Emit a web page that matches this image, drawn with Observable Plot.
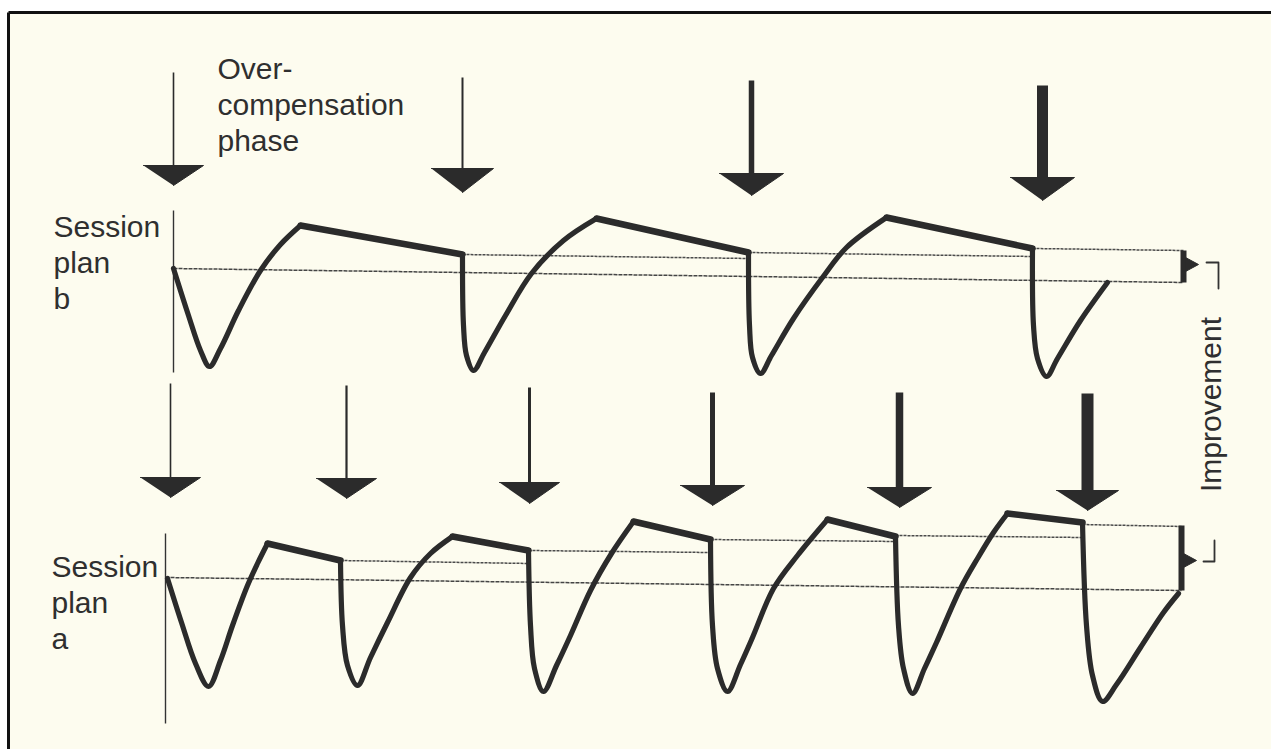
<!DOCTYPE html>
<html><head><meta charset="utf-8">
<script src="https://cdn.jsdelivr.net/npm/d3@7"></script>
<script src="https://cdn.jsdelivr.net/npm/@observablehq/plot@0.6"></script>
<style>html,body{margin:0;padding:0;background:#fff;overflow:hidden} #chart svg{display:block}</style>
</head><body><div id="chart"></div>
<script>
// ---- Session plan b (upper diagram) ----
const bAxis = [[173, 210], [173, 372]];
const bBaseline = [[173, 268], [1183, 282]];
const bTroughs = [
  [[173,268],[188,315],[200,350],[209,366],[220,348],[238,310],[260,270],[280,244],[300,225]],
  [[462,254],[463,325],[466,355],[473,370],[484,352],[505,315],[531,273],[563,240],[596,218]],
  [[748,252],[749,325],[752,357],[760,373],[771,355],[793,318],[822,277],[846,247],[886,217]],
  [[1032,248],[1033,325],[1037,358],[1046,376],[1057,358],[1080,320],[1107,282]]
];
const bPlateaus = [[[300,225],[462,254]], [[596,218],[748,252]], [[886,217],[1032,248]]];
const bLevels = [[[462,254],[748,258]], [[748,252],[1032,256]], [[1032,248],[1183,250]]];
const bArrowX = [173, 462, 751, 1042];
const bArrowTop = [72, 77, 80, 85];
const bArrowHeadTop = [165, 168, 173, 177];
const bArrowTip = [185, 192, 195, 200];
const bArrowShaft = [1.6, 2, 5.5, 11];
const bArrowHalf = [30, 31, 32, 32];
const bBracket = {x: 1183, top: 250, bottom: 282, point: 264};

// ---- Session plan a (lower diagram) ----
const aAxis = [[165, 533], [165, 723]];
const aBaseline = [[165, 577], [1181, 590]];
const aTroughs = [
  [[167,578],[181,622],[195,663],[208,686],[220,660],[232,625],[247,585],[257,563],[267,543]],
  [[340,560],[342,625],[347,665],[357,685],[370,657],[387,622],[410,577],[430,553],[452,536]],
  [[528,550],[530,625],[534,668],[543,691],[556,665],[570,635],[590,590],[611,553],[633,521]],
  [[710,539],[712,625],[717,668],[727,691],[740,664],[752,637],[773,588],[797,555],[827,519]],
  [[895,536],[898,625],[903,668],[912,693],[924,668],[936,642],[960,588],[977,558],[993,532],[1007,513]],
  [[1082,522],[1086,625],[1092,675],[1102,701],[1116,684],[1140,647],[1163,612],[1178,593]]
];
const aPlateaus = [[[267,543],[340,560]], [[452,536],[528,550]], [[633,521],[710,539]], [[827,519],[895,536]], [[1007,513],[1082,522]]];
const aLevels = [[[340,560],[528,563]], [[528,550],[710,552]], [[710,539],[895,541]], [[895,535],[1082,537]], [[1082,524],[1181,526]]];
const aArrowX = [170, 346, 529, 712, 899, 1087];
const aArrowTop = [383, 385, 387, 392, 392, 393];
const aArrowHeadTop = [477, 478, 482, 485, 487, 490];
const aArrowTip = [497, 498, 503, 505, 507, 510];
const aArrowShaft = [1.6, 2.2, 3, 5, 7.5, 12];
const aArrowHalf = [30, 30, 30, 32, 32, 31];
const aBracket = {x: 1181, top: 525, bottom: 590, point: 560};

// ---- labels ----
const labels = [
  {text: "Over-\ncompensation\nphase", x: 217, y: 150},
  {text: "Session\nplan\nb", x: 53, y: 308},
  {text: "Session\nplan\na", x: 51, y: 648}
];
const improvementLabel = {text: "Improvement", x: 1211, y: 404};
const improvementTicks = [
  [[1206,262],[1218,262],[1218,288]],
  [[1214,540],[1214,561],[1203,561]]
];

// ---- page frame (scan border: top and left edges only) ----
const frameEdges = [[[8,12],[1271,12]], [[8,12],[8,749]]];
const paper = [{x1: 8, y1: 12, x2: 1271, y2: 749}];

// ---- build tables ----
const ink = "#2b2b2b";
const toLinks = (pairs) => pairs.map(([[x1,y1],[x2,y2]]) => ({x1, y1, x2, y2}));
const toRows = (paths, prefix) => paths.flatMap((p, i) => p.map(([x, y]) => ({id: prefix + i, x, y})));
const arrows = (X, T, H, P, S, W, prefix) => X.map((x, i) => ({id: prefix + i, x, top: T[i], headTop: H[i], tip: P[i], shaft: S[i], half: W[i]}));
const arrowList = [...arrows(bArrowX, bArrowTop, bArrowHeadTop, bArrowTip, bArrowShaft, bArrowHalf, "b"),
                   ...arrows(aArrowX, aArrowTop, aArrowHeadTop, aArrowTip, aArrowShaft, aArrowHalf, "a")];
const headRows = arrowList.flatMap(a => [
  {id: a.id, x: a.x - a.half, y: a.headTop},
  {id: a.id, x: a.x + a.half, y: a.headTop},
  {id: a.id, x: a.x, y: a.tip}
]);
const brackets = [bBracket, aBracket];
const pointerRows = brackets.flatMap((b, i) => [
  {id: i, x: b.x + 2, y: b.point - 7},
  {id: i, x: b.x + 15, y: b.point},
  {id: i, x: b.x + 2, y: b.point + 7}
]);

const chart = Plot.plot({
  width: 1271, height: 749, margin: 0,
  x: {domain: [0, 1271], range: [0, 1271], axis: null},
  y: {domain: [0, 749], range: [0, 749], axis: null},
  style: {background: "#ffffff", fontFamily: "'Liberation Sans', Arial, sans-serif"},
  marks: [
    Plot.rect(paper, {x1: "x1", y1: "y1", x2: "x2", y2: "y2", fill: "#fdfcef"}),
    Plot.link(toLinks(frameEdges), {x1: "x1", y1: "y1", x2: "x2", y2: "y2", stroke: "#111", strokeWidth: 3}),
    // axes
    Plot.link(toLinks([bAxis, aAxis]), {x1: "x1", y1: "y1", x2: "x2", y2: "y2", stroke: "#333", strokeWidth: 1.4}),
    // baselines
    Plot.link(toLinks([bBaseline, aBaseline]), {x1: "x1", y1: "y1", x2: "x2", y2: "y2", stroke: "#444", strokeWidth: 1.5, strokeDasharray: "4,1"}),
    // dotted levels
    Plot.link(toLinks([...bLevels, ...aLevels]), {x1: "x1", y1: "y1", x2: "x2", y2: "y2", stroke: "#4a4a4a", strokeWidth: 1.5, strokeDasharray: "3,1"}),
    // troughs
    Plot.line(toRows([...bTroughs, ...aTroughs], "t"), {x: "x", y: "y", z: "id", curve: "catmull-rom", stroke: ink, strokeWidth: 5.2, strokeLinejoin: "round", strokeLinecap: "round"}),
    // plateaus
    Plot.link(toLinks([...bPlateaus, ...aPlateaus]), {x1: "x1", y1: "y1", x2: "x2", y2: "y2", stroke: ink, strokeWidth: 6.5, strokeLinecap: "round"}),
    // arrow shafts
    Plot.link(arrowList, {x1: "x", x2: "x", y1: "top", y2: a => a.headTop + 2, stroke: ink, strokeWidth: "shaft"}),
    // arrow heads
    Plot.line(headRows, {x: "x", y: "y", z: "id", fill: ink, stroke: ink, strokeWidth: 1, strokeLinejoin: "miter"}),
    // brackets
    Plot.link(brackets, {x1: "x", x2: "x", y1: "top", y2: "bottom", stroke: ink, strokeWidth: 6}),
    Plot.line(pointerRows, {x: "x", y: "y", z: "id", fill: ink, stroke: ink, strokeWidth: 1}),
    Plot.line(toRows(improvementTicks, "k"), {x: "x", y: "y", z: "id", stroke: "#333", strokeWidth: 1.8}),
    // labels
    Plot.text(labels, {x: "x", y: "y", text: "text", textAnchor: "start", lineAnchor: "bottom", lineHeight: 1.2, fontSize: 30, fill: "#2f2f2f"}),
    Plot.text([improvementLabel], {x: "x", y: "y", text: "text", rotate: -90, textAnchor: "middle", lineAnchor: "middle", fontSize: 30, fill: "#2f2f2f"})
  ]
});
document.getElementById("chart").appendChild(chart);
</script></body></html>
